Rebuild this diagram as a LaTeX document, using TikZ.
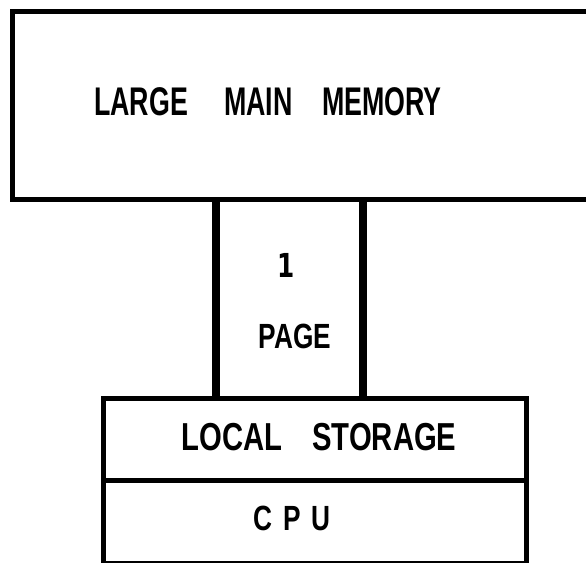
\documentclass[tikz,border=0pt]{standalone}
\usepackage{graphicx}
\usepackage{fontspec}
\setmainfont{Liberation Sans}
\newfontfamily\footedfigures{DejaVu Sans}
\begin{document}
\begin{tikzpicture}[x=1pt,y=-1pt,
  frame/.style={draw=black, line width=4.5pt, inner sep=0pt, anchor=north west},
  bus/.style={draw=black, line width=8.5pt},
  lettering/.style={inner sep=0pt, text=black}]
\useasboundingbox (0,0) rectangle (586,562);
\fill[white] (0,0) rectangle (586,562);

% main memory: its right side runs past the page edge
\node[frame, minimum width=600pt, minimum height=188pt] (mem) at (10,9) {};
\node[lettering, font=\bfseries\fontsize{40}{40}\selectfont] (memtxt) at (268,102)
  {\scalebox{0.67}[1]{LARGE\hspace{54pt}MAIN\hspace{44pt}MEMORY}};

% processor: local storage on top of the CPU
\node[frame, minimum width=423pt, minimum height=82pt] (ls) at (101,396) {};
\node[frame, minimum width=423pt, minimum height=83pt] (cpu) at (101,478) {};
\node[lettering, font=\bfseries\fontsize{39}{39}\selectfont] (lstxt) at (319,437)
  {\scalebox{0.75}[1]{LOCAL\hspace{40pt}STORAGE}};
\node[lettering, font=\bfseries\fontsize{35}{35}\selectfont] (cputxt) at (292,518)
  {\scalebox{0.75}[1]{C\hspace{14pt}P\hspace{14pt}U}};

% one-page channel between the two
\node[inner sep=0pt, outer sep=0pt, minimum width=147pt, minimum height=199pt] (page) at (289.5,296.5) {};
\draw[bus] (mem.south -| page.west) -- (ls.north -| page.west);
\draw[bus] (mem.south -| page.east) -- (ls.north -| page.east);
\node[lettering, font=\footedfigures\bfseries\fontsize{33}{33}\selectfont] (pgnum) at (286,265)
  {\scalebox{0.75}[1]{1}};
\node[lettering, font=\bfseries\fontsize{35}{35}\selectfont] (pgtxt) at (295,336)
  {\scalebox{0.75}[1]{PAGE}};
\end{tikzpicture}
\end{document}
